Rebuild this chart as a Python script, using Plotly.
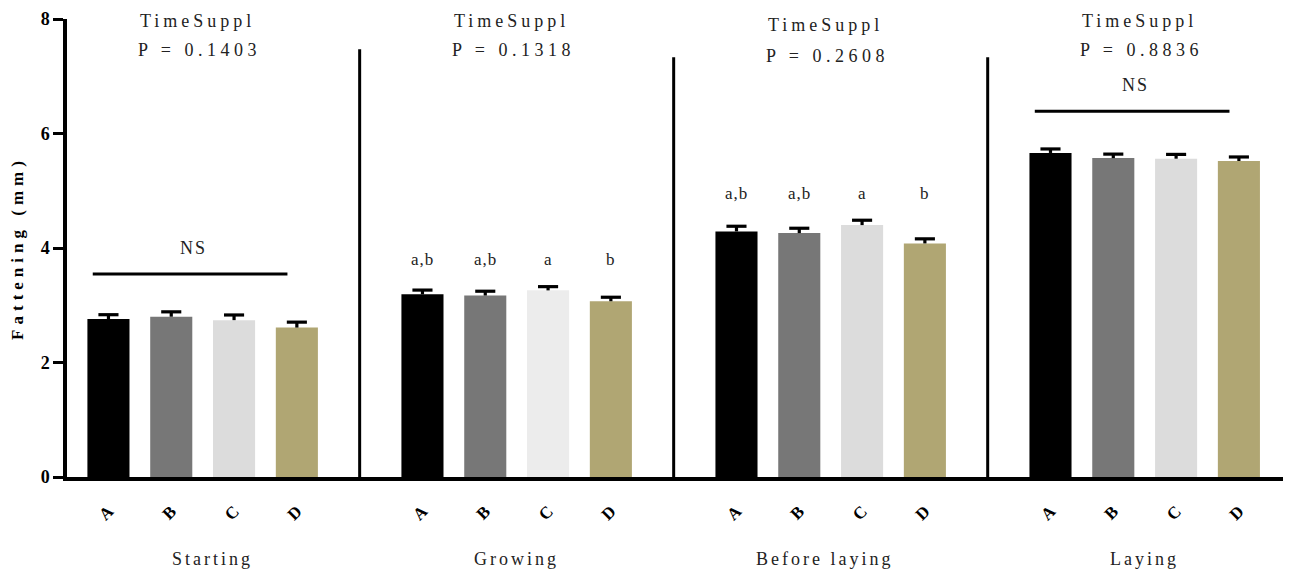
import plotly.graph_objects as go

periods = ["Starting", "Growing", "Before laying", "Laying"]
treatments = ["A", "B", "C", "D"]

mean_A = [2.76, 3.19, 4.29, 5.66]
mean_B = [2.80, 3.17, 4.26, 5.57]
mean_C = [2.74, 3.26, 4.40, 5.56]
mean_D = [2.61, 3.07, 4.08, 5.52]

sem_A = [0.075, 0.075, 0.09, 0.07]
sem_B = [0.085, 0.075, 0.085, 0.07]
sem_C = [0.09, 0.065, 0.085, 0.075]
sem_D = [0.095, 0.07, 0.08, 0.07]

p_values = ["0.1403", "0.1318", "0.2608", "0.8836"]
letters = [None, ["a,b", "a,b", "a", "b"], ["a,b", "a,b", "a", "b"], None]

y_ticks = [0, 2, 4, 6, 8]

means = [mean_A, mean_B, mean_C, mean_D]
sems = [sem_A, sem_B, sem_C, sem_D]
colors = ["#000000", "#777777", ["#dcdcdc", "#ececec", "#dcdcdc", "#dcdcdc"], "#b0a673"]

SERIF = "Liberation Serif"
GAP = 5        # slots per period (4 bars + 1 empty)
CAP = 0.16     # half cap width in x units

fig = go.Figure()
for ti, t in enumerate(treatments):
    xs = [pi * GAP + ti for pi in range(len(periods))]
    fig.add_trace(go.Bar(
        x=xs, y=means[ti], width=0.67, name=t,
        marker=dict(color=colors[ti], line=dict(width=0)),
    ))

# upward-only error bars (stem + top cap)
ex, ey = [], []
for ti in range(len(treatments)):
    for pi in range(len(periods)):
        x = pi * GAP + ti
        top = means[ti][pi] + sems[ti][pi]
        ex += [x, x, None, x - CAP, x + CAP, None]
        ey += [means[ti][pi], top, None, top, top, None]
fig.add_trace(go.Scatter(x=ex, y=ey, mode="lines", line=dict(color="black", width=3.2),
                         hoverinfo="skip", showlegend=False))

tickvals = [pi * GAP + ti for pi in range(len(periods)) for ti in range(len(treatments))]
ticktext = [t for _ in periods for t in treatments]


def spaced(s, px):
    return f'<span style="letter-spacing:{px}px">{s}</span>'


annotations = []
shapes = []
for pi, p in enumerate(periods):
    center = pi * GAP + 1.5
    tops = [means[ti][pi] + sems[ti][pi] for ti in range(len(treatments))]
    dy = -0.08 if p == "Before laying" else 0.0
    annotations.append(dict(x=center - 0.08, y=7.97 + dy, xref="x", yref="y", text=spaced("TimeSuppl", 4),
                            showarrow=False, font=dict(family=SERIF, size=18, color="#222")))
    annotations.append(dict(x=center - 0.05, y=7.46 + dy * 1.4, xref="x", yref="y",
                            text=spaced("P = " + p_values[pi], 4.5),
                            showarrow=False, font=dict(family=SERIF, size=18, color="#222")))
    annotations.append(dict(x=center + (0.15 if pi == 0 else (-0.1 if pi == 2 else 0)), y=-0.18,
                            xref="x", yref="paper", yanchor="middle",
                            text=spaced(p, 3), showarrow=False,
                            font=dict(family=SERIF, size=18, color="#222")))
    if letters[pi] is None:
        ly = max(tops) + 0.66
        shapes.append(dict(type="line", xref="x", yref="y", x0=center - 1.75, x1=center + 1.35,
                           y0=ly, y1=ly, line=dict(color="black", width=3)))
        annotations.append(dict(x=center - 0.15, y=ly + 0.46, xref="x", yref="y", text=spaced("NS", 2),
                                showarrow=False, font=dict(family=SERIF, size=18, color="#222")))
    else:
        ly = max(tops) + 0.47
        for ti, lab in enumerate(letters[pi]):
            annotations.append(dict(x=pi * GAP + ti, y=ly, xref="x", yref="y", text=spaced(lab, 1),
                                    showarrow=False, font=dict(family=SERIF, size=17, color="#222")))

sep_tops = [7.47, 7.33, 7.33]
for k in range(1, len(periods)):
    shapes.append(dict(type="line", xref="x", yref="y", x0=k * GAP - 1, x1=k * GAP - 1,
                       y0=0, y1=sep_tops[k - 1], line=dict(color="black", width=3)))

fig.update_layout(
    width=1283, height=563,
    margin=dict(l=59, r=5, t=11, b=94),
    plot_bgcolor="white", paper_bgcolor="white",
    showlegend=False, barmode="overlay",
    annotations=annotations, shapes=shapes,
    xaxis=dict(range=[-0.66, 18.75], showgrid=False, zeroline=False, automargin=False,
               showline=True, linecolor="black", linewidth=3.5,
               tickvals=tickvals, ticktext=ticktext, ticks="", tickangle=-45,
               ticklabelstandoff=14,
               tickfont=dict(family=SERIF, size=17, color="black", weight="bold")),
    yaxis=dict(range=[0, 8], showgrid=False, zeroline=False, automargin=False,
               showline=True, linecolor="black", linewidth=3.5,
               tickvals=y_ticks, ticks="outside", ticklen=10, tickwidth=3, tickcolor="black",
               tickfont=dict(family=SERIF, size=18, color="black", weight="bold"),
               title=dict(text=spaced("Fattening (mm)", 5), standoff=16,
                          font=dict(family=SERIF, size=17, color="black", weight="bold"))),
)

fig.write_html("out.html")
